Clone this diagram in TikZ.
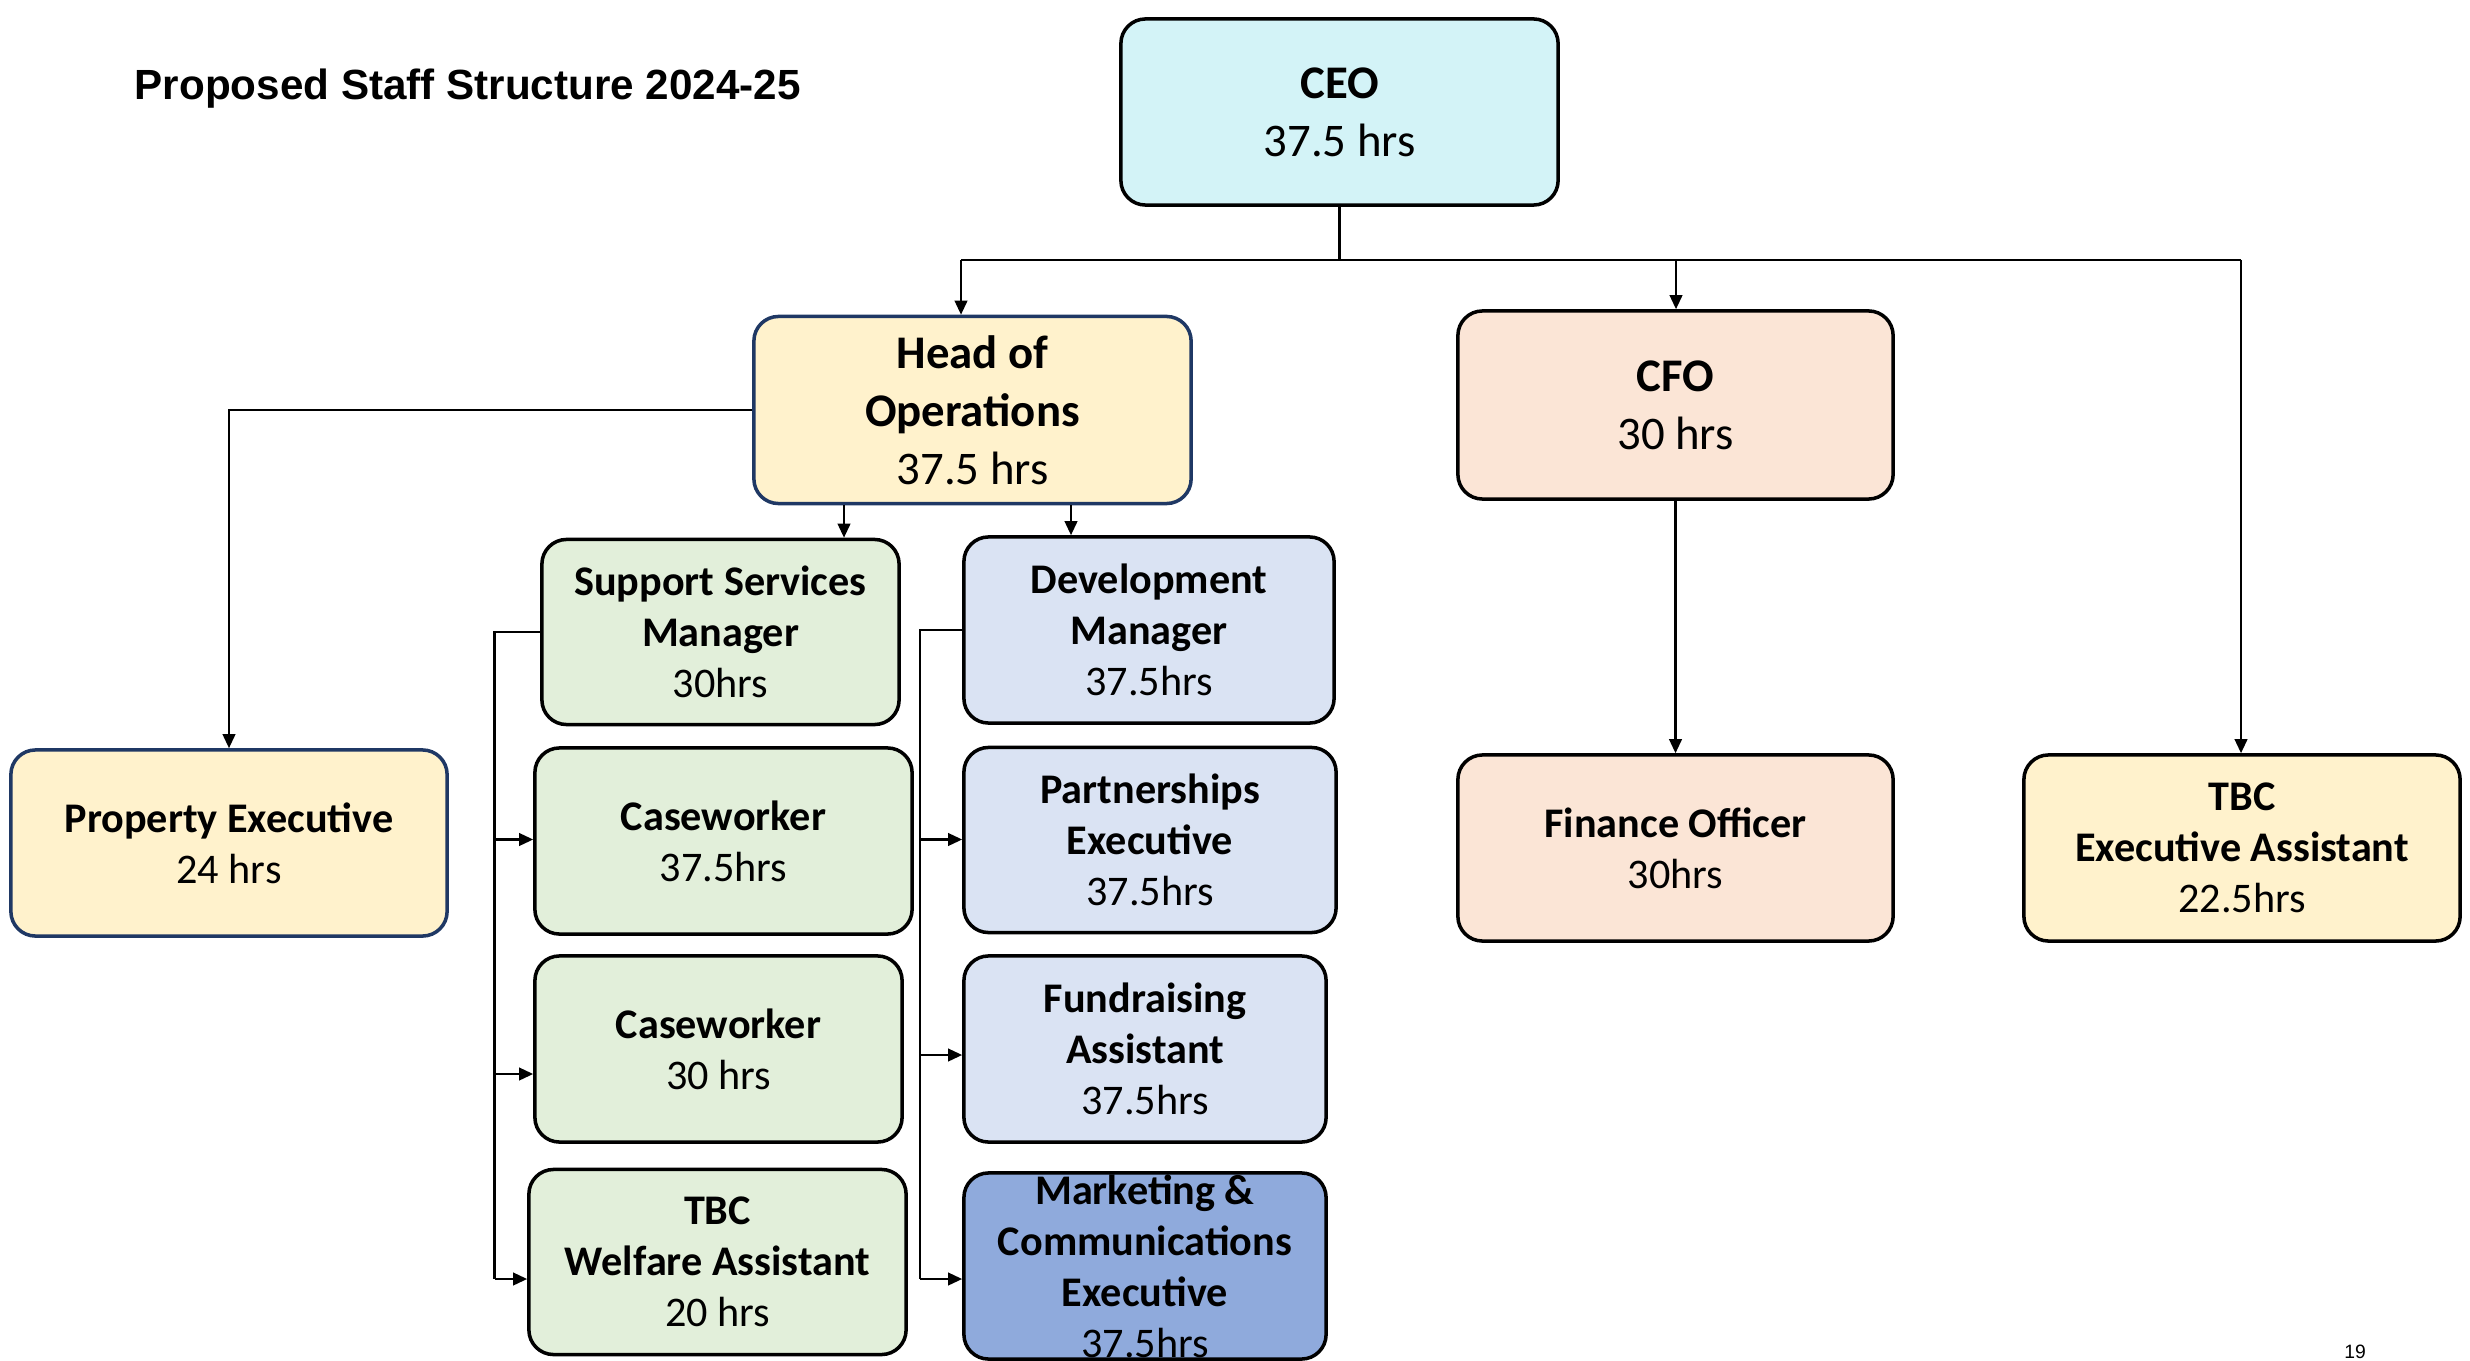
\documentclass[tikz,border=0pt]{standalone}
\usepackage{fontspec}
\setmainfont{Carlito}
\newfontfamily\titlefont{Liberation Sans}
\usetikzlibrary{arrows.meta}

\definecolor{ceocyan}{HTML}{D3F3F7}
\definecolor{opsyellow}{HTML}{FFF2CC}
\definecolor{finpeach}{HTML}{FBE5D6}
\definecolor{supgreen}{HTML}{E2EFDA}
\definecolor{devblue}{HTML}{DAE3F3}
\definecolor{mcblue}{HTML}{8FAADC}
\definecolor{navyline}{HTML}{1F3864}

\begin{document}
\begin{tikzpicture}[x=0.01cm, y=-0.01cm,
    box/.style={draw=black, line width=1pt, rounded corners=7pt, align=center, inner sep=2pt},
    bigtext/.style={font=\fontsize{13.3}{16.5}\selectfont},
    smalltext/.style={font=\fontsize{12}{14.5}\selectfont},
    link/.style={line width=0.6pt},
    arr/.style={link, -{Triangle[length=4pt, width=3.6pt]}}]
\useasboundingbox (0,0) rectangle (2470,1361);

% 1. 标题和页码
\node[anchor=west, inner sep=0pt, font=\titlefont\bfseries\fontsize{12}{14}\selectfont] (title) at (134,89) {Proposed Staff Structure 2024-25};
\node[font=\titlefont\fontsize{5.5}{6}\selectfont] (pageno) at (2355,1352) {19};

% 2. 上层的框
\node[box, bigtext, fill=ceocyan, minimum width=4.37cm, minimum height=1.86cm] (ceo) at (1339.5,112) {\textbf{CEO}\\37.5 hrs};
\node[box, bigtext, draw=navyline, fill=opsyellow, minimum width=4.37cm, minimum height=1.87cm] (hoo) at (972.5,410) {\textbf{Head of}\\\textbf{Operations}\\37.5 hrs};
\node[box, bigtext, fill=finpeach, minimum width=4.35cm, minimum height=1.88cm] (cfo) at (1675.5,405) {\textbf{CFO}\\30 hrs};

% 3. 下层的框
\node[box, smalltext, draw=navyline, fill=opsyellow, minimum width=4.36cm, minimum height=1.86cm] (prop) at (229,843) {\textbf{Property Executive}\\24 hrs};
\node[box, smalltext, fill=finpeach, minimum width=4.35cm, minimum height=1.86cm] (fin) at (1675.5,848) {\textbf{Finance Officer}\\30hrs};
\node[box, smalltext, fill=opsyellow, minimum width=4.36cm, minimum height=1.86cm] (tea) at (2242,848) {\textbf{TBC}\\\textbf{Executive Assistant}\\22.5hrs};

% 支持服务一列
\node[box, smalltext, fill=supgreen, minimum width=3.57cm, minimum height=1.85cm] (ssm) at (720.5,632) {\textbf{Support Services}\\\textbf{Manager}\\30hrs};
\node[box, smalltext, fill=supgreen, minimum width=3.77cm, minimum height=1.86cm] (cwa) at (723.5,841) {\textbf{Caseworker}\\37.5hrs};
\node[box, smalltext, fill=supgreen, minimum width=3.67cm, minimum height=1.86cm] (cwb) at (718.5,1049) {\textbf{Caseworker}\\30 hrs};
\node[box, smalltext, fill=supgreen, minimum width=3.77cm, minimum height=1.85cm] (wfa) at (717.5,1262) {\textbf{TBC}\\\textbf{Welfare Assistant}\\20 hrs};

% 发展一列
\node[box, smalltext, fill=devblue, minimum width=3.70cm, minimum height=1.86cm] (dm) at (1149,630) {\textbf{Development}\\\textbf{Manager}\\37.5hrs};
\node[box, smalltext, fill=devblue, minimum width=3.72cm, minimum height=1.85cm] (pex) at (1150,840) {\textbf{Partnerships}\\\textbf{Executive}\\37.5hrs};
\node[box, smalltext, fill=devblue, minimum width=3.62cm, minimum height=1.86cm] (fra) at (1145,1049) {\textbf{Fundraising}\\\textbf{Assistant}\\37.5hrs};
\node[box, fill=mcblue, minimum width=3.62cm, minimum height=1.86cm] (mce) at (1145,1266) {};
\node[smalltext, align=center, inner sep=0pt] (mcetext) at (mce.center) {\textbf{Marketing \&}\\\textbf{Communications}\\\textbf{Executive}\\37.5hrs};

% 4. 连线
\coordinate (stem) at (1339.5,260);
\coordinate (barL) at (961,260);
\coordinate (barR) at (2241,260);
\coordinate (cfotap) at (1676,260);
\draw[link] (ceo.south) -- (stem);
\draw[link] (barL) -- (barR);
\draw[arr] (barL) -- (barL |- hoo.north);
\draw[arr] (cfotap) -- (cfotap |- cfo.north);
\draw[arr] (barR) -- (barR |- tea.north);
\draw[arr] (cfo.south) -- (fin.north);
\draw[arr] (hoo.west) -| (prop.north);

\coordinate (ssmtap) at (844,0);
\coordinate (dmtap) at (1071,0);
\draw[arr] (hoo.south -| ssmtap) -- (ssm.north -| ssmtap);
\draw[arr] (hoo.south -| dmtap) -- (dm.north -| dmtap);

% 两列左边的竖线
\draw[link] (ssm.west) -| (494.5,1279);
\foreach \y/\tgt in {839.5/cwa, 1074/cwb, 1279/wfa}
    {\draw[arr] (494.5,\y) -- (\tgt.west |- 494.5,\y);
    }
\draw[link] (dm.west) -| (920,1279);
\foreach \y/\tgt in {839.5/pex, 1055/fra, 1279/mce}
    {\draw[arr] (920,\y) -- (\tgt.west |- 920,\y);
    }
\end{tikzpicture}
\end{document}
